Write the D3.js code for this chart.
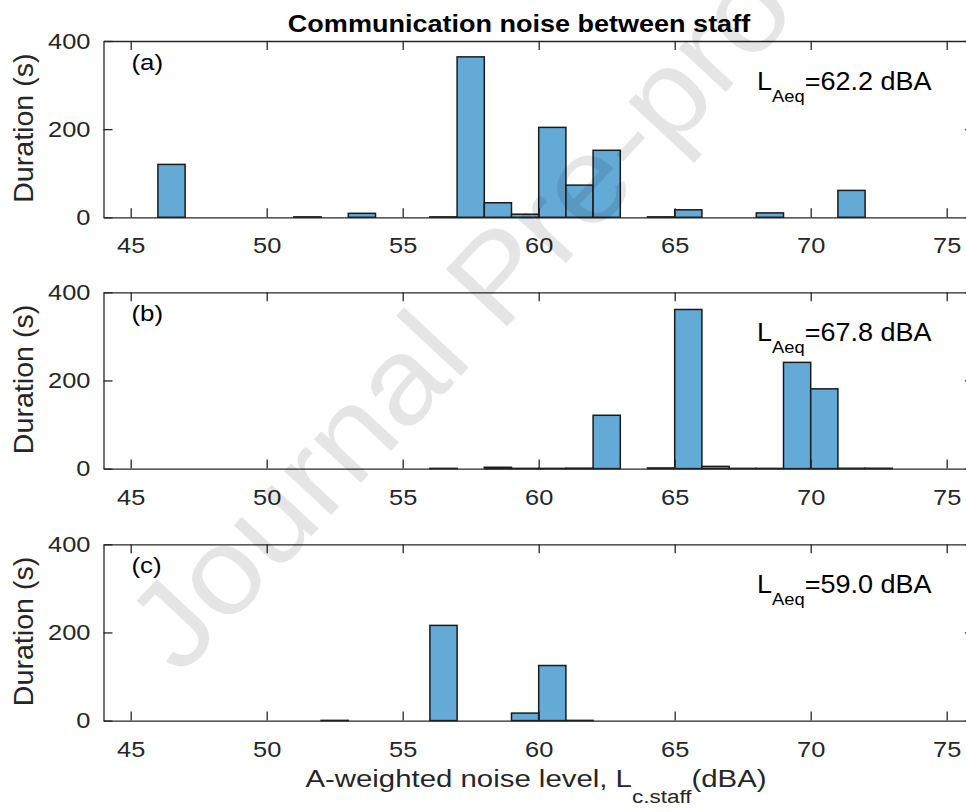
<!DOCTYPE html>
<html>
<head>
<meta charset="utf-8">
<script src="https://cdn.jsdelivr.net/npm/d3@7"></script>
<style>
  body { margin: 0; background: #fff; }
  text { font-family: "Liberation Sans", Arial, sans-serif; }
</style>
</head>
<body>
<script>
// bin start (dBA, 1 dBA wide bins) and duration (s) for each panel
const binsA = [46, 51, 53, 56, 57, 58, 59, 60, 61, 62, 64, 65, 68, 71];
const durA  = [120, 1, 9, 1, 364, 33, 7, 204, 73, 152, 1, 17, 10, 61];

const binsB = [56, 58, 59, 60, 61, 62, 64, 65, 66, 67, 68, 69, 70, 71, 72];
const durB  = [0.5, 3, 0.5, 0.5, 1, 121, 1.5, 361, 5, 0.5, 0.5, 241, 181, 0.8, 0.8];

const binsC = [52, 56, 59, 60, 61];
const durC  = [0.5, 216, 17, 125, 0.5];

const panelTags = ['(a)', '(b)', '(c)'];
const laeqVals = ['62.2', '67.8', '59.0'];
const xTicks = [45, 50, 55, 60, 65, 70, 75];
const yTicks = [0, 200, 400];

const width = 966, height = 812;
const left = 103.5, right = 973.9;
const panelTops = [41, 292.3, 544.3];
const panelH = 176.3;
const axisColor = '#262626';
const sx = 1.13; // the source font renders a bit wider than Arial

const svg = d3.select('body').append('svg')
    .attr('width', width)
    .attr('height', height);

svg.append('rect').attr('width', width).attr('height', height).attr('fill', '#fff');

const x = d3.scaleLinear().domain([44, 76]).range([left, right]);

const panels = [
    {bins: binsA, dur: durA},
    {bins: binsB, dur: durB},
    {bins: binsC, dur: durC}
];

panels.forEach((p, i) => {
    const top = panelTops[i];
    const y = d3.scaleLinear().domain([0, 400]).range([top + panelH, top]);
    const g = svg.append('g');

    const data = p.bins.map((b, k) => ({x0: b, x1: b + 1, v: p.dur[k]}));

    g.selectAll('rect.bar')
        .data(data)
      .enter().append('rect')
        .attr('class', 'bar')
        .attr('x', d => x(d.x0))
        .attr('width', d => x(d.x1) - x(d.x0))
        .attr('y', d => y(d.v))
        .attr('height', d => y(0) - y(d.v))
        .attr('fill', 'rgb(100,170,215)')
        .attr('stroke', '#1a1a1a')
        .attr('stroke-width', 1.5);

    // bottom axis with labels
    const xb = g.append('g')
        .attr('transform', `translate(0,${top + panelH})`)
        .call(d3.axisBottom(x).tickValues(xTicks).tickSizeInner(-9).tickSizeOuter(0).tickPadding(20));
    // top axis, ticks only
    const xt = g.append('g')
        .attr('transform', `translate(0,${top})`)
        .call(d3.axisTop(x).tickValues(xTicks).tickSizeInner(-9).tickSizeOuter(0).tickFormat(''));
    // left axis with labels
    const yl = g.append('g')
        .attr('transform', `translate(${left},0)`)
        .call(d3.axisLeft(y).tickValues(yTicks).tickSizeInner(-9).tickSizeOuter(0).tickPadding(11.5));
    // right axis, ticks only
    const yr = g.append('g')
        .attr('transform', `translate(${right},0)`)
        .call(d3.axisRight(y).tickValues(yTicks).tickSizeInner(-9).tickSizeOuter(0).tickFormat(''));

    [xb, xt, yl, yr].forEach(a => {
        a.select('.domain').attr('stroke', axisColor).attr('stroke-width', 1.3);
        a.selectAll('.tick line').attr('stroke', axisColor).attr('stroke-width', 1.3);
        a.selectAll('.tick text')
            .attr('fill', axisColor)
            .style('font-size', '22.5px')
            .attr('transform', `scale(${sx},1)`);
    });

    // y label
    g.append('text')
        .attr('transform', `translate(33,${top + panelH / 2 - 1}) rotate(-90) scale(1.06,1)`)
        .attr('text-anchor', 'middle')
        .attr('fill', axisColor)
        .style('font-size', '27px')
        .text('Duration (s)');

    // panel tag
    g.append('text')
        .attr('transform', `translate(131.5,${top + 29}) scale(1.15,1)`)
        .attr('fill', '#000')
        .style('font-size', '22.5px')
        .text(panelTags[i]);

    // L_Aeq note
    const t = g.append('text')
        .attr('transform', `translate(757,${top + 49}) scale(1.08,1)`)
        .attr('fill', '#000')
        .style('font-size', '25px');
    t.append('tspan').text('L');
    t.append('tspan').attr('dy', 12).style('font-size', '17px').text('Aeq');
    t.append('tspan').attr('dy', -12).text('=' + laeqVals[i] + ' dBA');
});

// title
svg.append('text')
    .attr('transform', `translate(519,32) scale(1.15,1)`)
    .attr('text-anchor', 'middle')
    .style('font-size', '23.5px')
    .style('font-weight', 'bold')
    .attr('fill', '#000')
    .text('Communication noise between staff');

// x label
const xl = svg.append('text')
    .attr('transform', `translate(536,787) scale(1.25,1)`)
    .attr('text-anchor', 'middle')
    .attr('fill', axisColor)
    .style('font-size', '23.5px');
xl.append('tspan').text('A-weighted noise level, L');
xl.append('tspan').attr('dy', 16).style('font-size', '18px').text('c.staff');
xl.append('tspan').attr('dy', -16).text('(dBA)');

// watermark
svg.append('text')
    .attr('transform', 'translate(495,275) rotate(-47) scale(1.08,1)')
    .attr('text-anchor', 'middle')
    .attr('y', '0.36em')
    .style('font-size', '122px')
    .attr('fill', '#000')
    .attr('fill-opacity', 0.1)
    .text('Journal Pre-proof');
</script>
</body>
</html>
